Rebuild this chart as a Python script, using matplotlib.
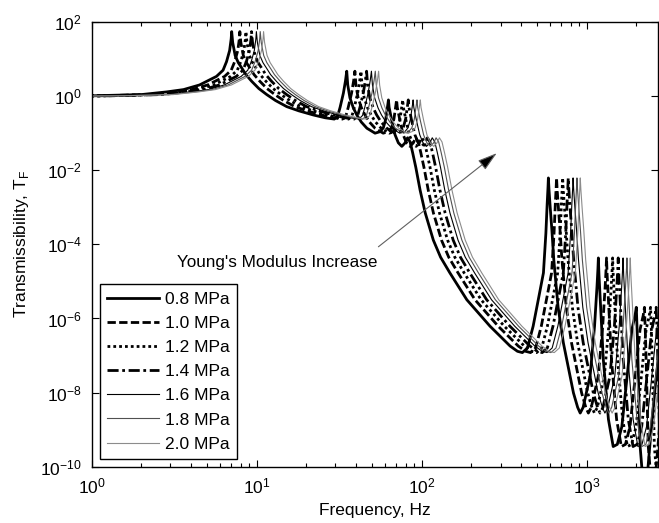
import matplotlib
matplotlib.use("Agg")
import matplotlib.pyplot as plt
from matplotlib.ticker import LogLocator, NullLocator, FixedLocator

plt.rcParams['font.family'] = ['Liberation Sans', 'DejaVu Sans']
plt.rcParams['mathtext.fontset'] = 'custom'
plt.rcParams['mathtext.rm'] = 'Liberation Sans'

# Transmissibility curve read for the 0.8 MPa case (frequency in Hz, T_F)
base_hz = [0.5, 1.0, 2.0, 2.85, 3.6, 4.5, 5.7, 6.25, 6.56, 6.85, 7.0, 7.05, 7.15, 7.4, 7.73,
           8.1, 8.6, 9.33, 10.3, 11.5, 13.0, 15.2, 18.0, 22.0, 26.0, 29.5, 31.0, 32.0,
           33.5, 34.5, 35.1, 35.6, 36.7, 38.5, 40.4, 43.0, 46.5, 52.1, 56.0, 58.5, 60.5,
           61.4, 62.3, 62.8, 63.4, 65.8, 68.9, 72.1, 75.7, 79.3, 82.0, 85.0, 88.0, 92.0,
           97.7, 105, 117.5, 130, 148, 187.5, 259, 343, 380, 407, 437, 473, 513, 546,
           565, 575, 582, 585, 590, 600, 614, 631, 670, 721, 830, 880, 912, 950, 1047,
           1114, 1153, 1168, 1175, 1185, 1213, 1259, 1352, 1445, 1530, 1630, 1746, 1875,
           1960, 1995, 2025, 2056, 2104, 2153, 2240, 2350, 2455, 2600, 2750]
base_T = [1.0, 1.02, 1.1, 1.3, 1.5, 2.0, 3.4, 5.0, 8.5, 17, 35, 55, 28, 12.5, 8.0,
          5.8, 3.8, 2.5, 1.6, 1.1, 0.76, 0.52, 0.40, 0.31, 0.26, 0.24, 0.30, 0.5,
          1.2, 2.6, 4.7, 2.0, 0.9, 0.48, 0.31, 0.2, 0.136, 0.10, 0.11, 0.14, 0.24,
          0.38, 0.6, 0.79, 0.5, 0.22, 0.09, 0.055, 0.044, 0.055, 0.075, 0.058, 0.03, 0.012,
          2.9e-3, 7e-4, 1.3e-4, 4.5e-5, 1.7e-5, 3.2e-6, 6.2e-7, 1.8e-7, 1.3e-7, 1.2e-7,
          1.6e-7, 6.2e-7, 4e-6, 1.7e-5,
          2e-4, 1.2e-3, 3.5e-3, 6.2e-3, 3e-3, 1e-3, 2.5e-4, 3.8e-5, 2e-6, 2.2e-7, 9.8e-9,
          4e-9, 2.8e-9, 4e-9, 2.8e-8,
          6.2e-7, 7.4e-6, 2.2e-5, 4.3e-5, 1.5e-5, 2e-6, 7.8e-8, 1.9e-9, 3.5e-10, 4e-10,
          1.2e-9, 2.2e-8, 5e-7,
          1.2e-6, 2e-6, 3e-7, 2.2e-8, 3.5e-10, 1e-10, 3e-11, 1e-10, 1e-9, 1.5e-8, 1.5e-7]

# Young's modulus cases and their first-resonance frequencies
labels = ['0.8 MPa', '1.0 MPa', '1.2 MPa', '1.4 MPa', '1.6 MPa', '1.8 MPa', '2.0 MPa']
first_peak_hz = [7.05, 7.9, 8.6, 9.3, 9.95, 10.5, 11.0]

styles = [
    dict(color='black', lw=2.0, ls='-'),
    dict(color='black', lw=2.0, ls=(0, (3, 1.2))),
    dict(color='black', lw=2.0, ls=(0, (1, 1.1))),
    dict(color='black', lw=2.0, ls=(0, (4, 1.3, 1, 1.3))),
    dict(color='black', lw=0.8, ls='-'),
    dict(color='#505050', lw=0.8, ls='-'),
    dict(color='#8c8c8c', lw=0.8, ls='-'),
]

fig = plt.figure(figsize=(6.59, 5.23), dpi=100)
ax = fig.add_axes([91.7 / 659, 1 - 466.7 / 523, (658 - 91.7) / 659, (466.7 - 22) / 523])

for lab, fp, st in zip(labels, first_peak_hz, styles):
    scale = fp / first_peak_hz[0]
    xs = [f * scale for f in base_hz]
    ax.plot(xs, base_T, label=lab, **st)

ax.set_xscale('log')
ax.set_yscale('log')
ax.set_xlim(1, 2700)
ax.set_ylim(1e-10, 1e2)

ax.xaxis.set_major_locator(LogLocator(base=10, numticks=10))
ax.xaxis.set_minor_locator(LogLocator(base=10, subs=range(2, 10), numticks=100))
ax.yaxis.set_major_locator(FixedLocator([1e-10, 1e-8, 1e-6, 1e-4, 1e-2, 1e0, 1e2]))
ax.yaxis.set_minor_locator(NullLocator())

ax.tick_params(which='both', direction='in', top=True, right=True, labelsize=12.5, width=0.8)
ax.tick_params(which='major', length=5, pad=7)
ax.tick_params(which='minor', length=3)
for sp in ax.spines.values():
    sp.set_linewidth(1.0)

ax.set_xlabel('Frequency, Hz', fontsize=12.5, labelpad=5)
ax.set_ylabel('Transmissibility, T$_\\mathregular{F}$', fontsize=12.5, labelpad=7)

ax.annotate('', xy=(284.8, 0.0289), xytext=(54.6, 8.6e-5),
            arrowprops=dict(arrowstyle='-|>,head_length=1.0,head_width=0.3',
                            mutation_scale=12, fc='black', ec='#606060', lw=0.8,
                            shrinkA=0, shrinkB=0))
ax.text(3.27, 3.2e-5, "Young's Modulus Increase", fontsize=12.3, ha='left', va='center')

leg = ax.legend(loc='lower left', bbox_to_anchor=(0.0147, 0.0173), borderaxespad=0,
                fontsize=12.5, handlelength=3.0, handletextpad=0.3, labelspacing=0.52,
                borderpad=0.42, fancybox=False, framealpha=1, edgecolor='black')
leg.get_frame().set_linewidth(1.0)

fig.savefig('out.png', dpi=100)
